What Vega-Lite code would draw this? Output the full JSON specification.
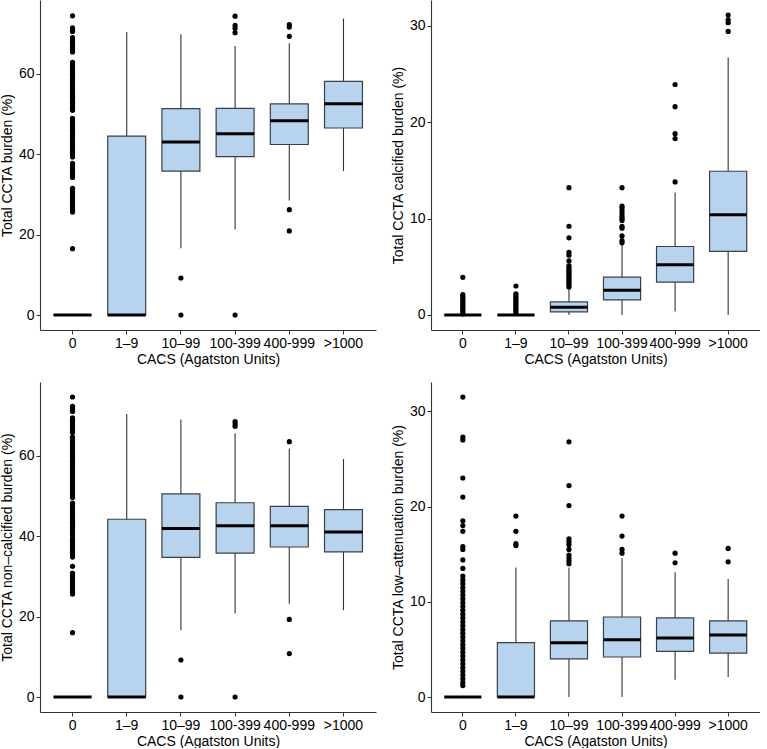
{
  "$schema": "https://vega.github.io/schema/vega-lite/v6.json",
  "padding": {"left": 0, "top": 0, "right": 0, "bottom": 0},
  "background": "white",
  "spacing": 16,
  "config": {
    "view": {"stroke": null},
    "font": "Liberation Sans",
    "axis": {
      "grid": false,
      "domainColor": "#333333",
      "domainWidth": 1.1,
      "tickColor": "#333333",
      "tickSize": 4,
      "labelFont": "Liberation Sans",
      "titleFont": "Liberation Sans",
      "labelFontSize": 14,
      "titleFontSize": 14,
      "titleFontWeight": "normal",
      "labelColor": "#000000",
      "titleColor": "#000000",
      "labelPadding": 2,
      "titlePadding": 4
    },
    "axisX": {"labelPadding": 2, "titlePadding": 2}
  },
  "datasets": {
    "boxes": [
      {"p": 1, "cat": "0", "lo": 0, "q1": 0, "med": 0, "q3": 0, "hi": 0},
      {"p": 1, "cat": "1–9", "lo": 0, "q1": 0, "med": 0, "q3": 44.5, "hi": 70.4},
      {"p": 1, "cat": "10–99", "lo": 16.6, "q1": 35.8, "med": 43.0, "q3": 51.3, "hi": 69.8},
      {"p": 1, "cat": "100-399", "lo": 21.3, "q1": 39.4, "med": 45.1, "q3": 51.4, "hi": 66.9},
      {"p": 1, "cat": "400-999", "lo": 28.5, "q1": 42.4, "med": 48.3, "q3": 52.5, "hi": 67.6},
      {"p": 1, "cat": ">1000", "lo": 35.8, "q1": 46.5, "med": 52.5, "q3": 58.1, "hi": 73.7},
      {"p": 2, "cat": "0", "lo": 0, "q1": 0, "med": 0, "q3": 0, "hi": 0},
      {"p": 2, "cat": "1–9", "lo": 0, "q1": 0, "med": 0, "q3": 0, "hi": 0},
      {"p": 2, "cat": "10–99", "lo": 0, "q1": 0.31, "med": 0.8, "q3": 1.35, "hi": 2.7},
      {"p": 2, "cat": "100-399", "lo": 0, "q1": 1.56, "med": 2.57, "q3": 3.92, "hi": 7.3},
      {"p": 2, "cat": "400-999", "lo": 0.35, "q1": 3.4, "med": 5.2, "q3": 7.1, "hi": 12.7},
      {"p": 2, "cat": ">1000", "lo": 0, "q1": 6.6, "med": 10.4, "q3": 14.9, "hi": 26.7},
      {"p": 3, "cat": "0", "lo": 0, "q1": 0, "med": 0, "q3": 0, "hi": 0},
      {"p": 3, "cat": "1–9", "lo": 0, "q1": 0, "med": 0, "q3": 44.2, "hi": 70.4},
      {"p": 3, "cat": "10–99", "lo": 16.6, "q1": 34.7, "med": 41.9, "q3": 50.5, "hi": 69.0},
      {"p": 3, "cat": "100-399", "lo": 20.8, "q1": 35.8, "med": 42.6, "q3": 48.3, "hi": 65.6},
      {"p": 3, "cat": "400-999", "lo": 23.2, "q1": 37.3, "med": 42.6, "q3": 47.4, "hi": 61.8},
      {"p": 3, "cat": ">1000", "lo": 21.6, "q1": 36.1, "med": 41.0, "q3": 46.6, "hi": 59.2},
      {"p": 4, "cat": "0", "lo": 0, "q1": 0, "med": 0, "q3": 0, "hi": 0},
      {"p": 4, "cat": "1–9", "lo": 0, "q1": 0, "med": 0, "q3": 5.7, "hi": 13.6},
      {"p": 4, "cat": "10–99", "lo": 0, "q1": 4.0, "med": 5.7, "q3": 8.0, "hi": 13.6},
      {"p": 4, "cat": "100-399", "lo": 0, "q1": 4.2, "med": 6.0, "q3": 8.4, "hi": 14.6},
      {"p": 4, "cat": "400-999", "lo": 1.8, "q1": 4.8, "med": 6.2, "q3": 8.3, "hi": 13.1},
      {"p": 4, "cat": ">1000", "lo": 2.1, "q1": 4.6, "med": 6.5, "q3": 8.0, "hi": 12.4}
    ],
    "outliers": [
      {"p": 1, "cat": "0", "v": 74.4}, {"p": 1, "cat": "0", "v": 71.4}, {"p": 1, "cat": "0", "v": 70.9}, {"p": 1, "cat": "0", "v": 70.5},
      {"p": 1, "cat": "0", "v": 69.0}, {"p": 1, "cat": "0", "v": 68.4}, {"p": 1, "cat": "0", "v": 67.8}, {"p": 1, "cat": "0", "v": 67.2},
      {"p": 1, "cat": "0", "v": 66.6}, {"p": 1, "cat": "0", "v": 66.0}, {"p": 1, "cat": "0", "v": 65.4}, {"p": 1, "cat": "0", "v": 62.8},
      {"p": 1, "cat": "0", "v": 62.2}, {"p": 1, "cat": "0", "v": 61.6}, {"p": 1, "cat": "0", "v": 61.0}, {"p": 1, "cat": "0", "v": 60.4},
      {"p": 1, "cat": "0", "v": 59.8}, {"p": 1, "cat": "0", "v": 59.2}, {"p": 1, "cat": "0", "v": 58.6}, {"p": 1, "cat": "0", "v": 58.0},
      {"p": 1, "cat": "0", "v": 57.4}, {"p": 1, "cat": "0", "v": 56.8}, {"p": 1, "cat": "0", "v": 56.2}, {"p": 1, "cat": "0", "v": 55.6},
      {"p": 1, "cat": "0", "v": 55.0}, {"p": 1, "cat": "0", "v": 54.4}, {"p": 1, "cat": "0", "v": 53.8}, {"p": 1, "cat": "0", "v": 53.2},
      {"p": 1, "cat": "0", "v": 52.6}, {"p": 1, "cat": "0", "v": 52.0}, {"p": 1, "cat": "0", "v": 51.4}, {"p": 1, "cat": "0", "v": 50.9},
      {"p": 1, "cat": "0", "v": 48.9}, {"p": 1, "cat": "0", "v": 48.3}, {"p": 1, "cat": "0", "v": 47.7}, {"p": 1, "cat": "0", "v": 47.1},
      {"p": 1, "cat": "0", "v": 46.5}, {"p": 1, "cat": "0", "v": 45.9}, {"p": 1, "cat": "0", "v": 45.3}, {"p": 1, "cat": "0", "v": 44.7},
      {"p": 1, "cat": "0", "v": 44.1}, {"p": 1, "cat": "0", "v": 43.5}, {"p": 1, "cat": "0", "v": 42.9}, {"p": 1, "cat": "0", "v": 42.3},
      {"p": 1, "cat": "0", "v": 41.7}, {"p": 1, "cat": "0", "v": 41.1}, {"p": 1, "cat": "0", "v": 40.5}, {"p": 1, "cat": "0", "v": 39.9},
      {"p": 1, "cat": "0", "v": 39.3}, {"p": 1, "cat": "0", "v": 37.7}, {"p": 1, "cat": "0", "v": 37.1}, {"p": 1, "cat": "0", "v": 36.5},
      {"p": 1, "cat": "0", "v": 35.9}, {"p": 1, "cat": "0", "v": 35.3}, {"p": 1, "cat": "0", "v": 34.7}, {"p": 1, "cat": "0", "v": 34.2},
      {"p": 1, "cat": "0", "v": 31.5}, {"p": 1, "cat": "0", "v": 30.9}, {"p": 1, "cat": "0", "v": 30.3}, {"p": 1, "cat": "0", "v": 29.7},
      {"p": 1, "cat": "0", "v": 29.1}, {"p": 1, "cat": "0", "v": 28.5}, {"p": 1, "cat": "0", "v": 27.9}, {"p": 1, "cat": "0", "v": 27.3},
      {"p": 1, "cat": "0", "v": 26.7}, {"p": 1, "cat": "0", "v": 26.1}, {"p": 1, "cat": "0", "v": 25.6}, {"p": 1, "cat": "0", "v": 16.5},
      {"p": 1, "cat": "10–99", "v": 9.2}, {"p": 1, "cat": "10–99", "v": 0},
      {"p": 1, "cat": "100-399", "v": 74.3}, {"p": 1, "cat": "100-399", "v": 72.0}, {"p": 1, "cat": "100-399", "v": 71.3}, {"p": 1, "cat": "100-399", "v": 70.2}, {"p": 1, "cat": "100-399", "v": 0},
      {"p": 1, "cat": "400-999", "v": 72.2}, {"p": 1, "cat": "400-999", "v": 71.6}, {"p": 1, "cat": "400-999", "v": 69.3}, {"p": 1, "cat": "400-999", "v": 26.2}, {"p": 1, "cat": "400-999", "v": 20.9},

      {"p": 2, "cat": "0", "v": 3.9}, {"p": 2, "cat": "0", "v": 2.1}, {"p": 2, "cat": "0", "v": 1.9}, {"p": 2, "cat": "0", "v": 1.7},
      {"p": 2, "cat": "0", "v": 1.5}, {"p": 2, "cat": "0", "v": 1.3}, {"p": 2, "cat": "0", "v": 1.1}, {"p": 2, "cat": "0", "v": 0.9},
      {"p": 2, "cat": "0", "v": 0.7}, {"p": 2, "cat": "0", "v": 0.5}, {"p": 2, "cat": "0", "v": 0.3}, {"p": 2, "cat": "0", "v": 0.1},
      {"p": 2, "cat": "1–9", "v": 3.0}, {"p": 2, "cat": "1–9", "v": 2.2}, {"p": 2, "cat": "1–9", "v": 2.0}, {"p": 2, "cat": "1–9", "v": 1.8},
      {"p": 2, "cat": "1–9", "v": 1.6}, {"p": 2, "cat": "1–9", "v": 1.4}, {"p": 2, "cat": "1–9", "v": 1.2}, {"p": 2, "cat": "1–9", "v": 1.0},
      {"p": 2, "cat": "1–9", "v": 0.8}, {"p": 2, "cat": "1–9", "v": 0.6}, {"p": 2, "cat": "1–9", "v": 0.4}, {"p": 2, "cat": "1–9", "v": 0.2},
      {"p": 2, "cat": "10–99", "v": 2.9}, {"p": 2, "cat": "10–99", "v": 3.1}, {"p": 2, "cat": "10–99", "v": 3.3}, {"p": 2, "cat": "10–99", "v": 3.5},
      {"p": 2, "cat": "10–99", "v": 3.7}, {"p": 2, "cat": "10–99", "v": 3.9}, {"p": 2, "cat": "10–99", "v": 4.1}, {"p": 2, "cat": "10–99", "v": 4.3},
      {"p": 2, "cat": "10–99", "v": 4.5}, {"p": 2, "cat": "10–99", "v": 4.7}, {"p": 2, "cat": "10–99", "v": 4.9}, {"p": 2, "cat": "10–99", "v": 5.1},
      {"p": 2, "cat": "10–99", "v": 5.6}, {"p": 2, "cat": "10–99", "v": 6.2}, {"p": 2, "cat": "10–99", "v": 6.5}, {"p": 2, "cat": "10–99", "v": 8.0},
      {"p": 2, "cat": "10–99", "v": 9.2}, {"p": 2, "cat": "10–99", "v": 13.2},
      {"p": 2, "cat": "100-399", "v": 7.5}, {"p": 2, "cat": "100-399", "v": 7.7}, {"p": 2, "cat": "100-399", "v": 8.2}, {"p": 2, "cat": "100-399", "v": 9.0},
      {"p": 2, "cat": "100-399", "v": 9.2}, {"p": 2, "cat": "100-399", "v": 9.8}, {"p": 2, "cat": "100-399", "v": 10.0}, {"p": 2, "cat": "100-399", "v": 10.2},
      {"p": 2, "cat": "100-399", "v": 10.5}, {"p": 2, "cat": "100-399", "v": 10.8}, {"p": 2, "cat": "100-399", "v": 11.1}, {"p": 2, "cat": "100-399", "v": 11.3},
      {"p": 2, "cat": "100-399", "v": 13.2},
      {"p": 2, "cat": "400-999", "v": 13.8}, {"p": 2, "cat": "400-999", "v": 18.3}, {"p": 2, "cat": "400-999", "v": 18.8}, {"p": 2, "cat": "400-999", "v": 21.6}, {"p": 2, "cat": "400-999", "v": 23.9},
      {"p": 2, "cat": ">1000", "v": 29.4}, {"p": 2, "cat": ">1000", "v": 30.3}, {"p": 2, "cat": ">1000", "v": 30.6}, {"p": 2, "cat": ">1000", "v": 31.1},

      {"p": 3, "cat": "0", "v": 74.6}, {"p": 3, "cat": "0", "v": 72.3}, {"p": 3, "cat": "0", "v": 71.7}, {"p": 3, "cat": "0", "v": 71.0},
      {"p": 3, "cat": "0", "v": 69.4}, {"p": 3, "cat": "0", "v": 68.8}, {"p": 3, "cat": "0", "v": 68.2}, {"p": 3, "cat": "0", "v": 67.6},
      {"p": 3, "cat": "0", "v": 67.0}, {"p": 3, "cat": "0", "v": 66.4}, {"p": 3, "cat": "0", "v": 65.8}, {"p": 3, "cat": "0", "v": 64.6},
      {"p": 3, "cat": "0", "v": 64.0}, {"p": 3, "cat": "0", "v": 63.4}, {"p": 3, "cat": "0", "v": 62.8}, {"p": 3, "cat": "0", "v": 62.2},
      {"p": 3, "cat": "0", "v": 61.6}, {"p": 3, "cat": "0", "v": 61.0}, {"p": 3, "cat": "0", "v": 60.4}, {"p": 3, "cat": "0", "v": 59.8},
      {"p": 3, "cat": "0", "v": 59.2}, {"p": 3, "cat": "0", "v": 58.6}, {"p": 3, "cat": "0", "v": 58.0}, {"p": 3, "cat": "0", "v": 57.4},
      {"p": 3, "cat": "0", "v": 56.8}, {"p": 3, "cat": "0", "v": 56.2}, {"p": 3, "cat": "0", "v": 55.6}, {"p": 3, "cat": "0", "v": 55.0},
      {"p": 3, "cat": "0", "v": 54.4}, {"p": 3, "cat": "0", "v": 53.8}, {"p": 3, "cat": "0", "v": 53.2}, {"p": 3, "cat": "0", "v": 52.6},
      {"p": 3, "cat": "0", "v": 52.0}, {"p": 3, "cat": "0", "v": 51.4}, {"p": 3, "cat": "0", "v": 50.8}, {"p": 3, "cat": "0", "v": 50.2},
      {"p": 3, "cat": "0", "v": 49.6}, {"p": 3, "cat": "0", "v": 48.2}, {"p": 3, "cat": "0", "v": 47.6}, {"p": 3, "cat": "0", "v": 47.0},
      {"p": 3, "cat": "0", "v": 46.4}, {"p": 3, "cat": "0", "v": 45.8}, {"p": 3, "cat": "0", "v": 45.2}, {"p": 3, "cat": "0", "v": 44.6},
      {"p": 3, "cat": "0", "v": 44.0}, {"p": 3, "cat": "0", "v": 43.4}, {"p": 3, "cat": "0", "v": 42.8}, {"p": 3, "cat": "0", "v": 42.2},
      {"p": 3, "cat": "0", "v": 41.6}, {"p": 3, "cat": "0", "v": 41.0}, {"p": 3, "cat": "0", "v": 40.4}, {"p": 3, "cat": "0", "v": 39.6},
      {"p": 3, "cat": "0", "v": 39.0}, {"p": 3, "cat": "0", "v": 38.4}, {"p": 3, "cat": "0", "v": 37.8}, {"p": 3, "cat": "0", "v": 37.2},
      {"p": 3, "cat": "0", "v": 36.6}, {"p": 3, "cat": "0", "v": 36.0}, {"p": 3, "cat": "0", "v": 35.4}, {"p": 3, "cat": "0", "v": 34.8},
      {"p": 3, "cat": "0", "v": 32.5}, {"p": 3, "cat": "0", "v": 30.8}, {"p": 3, "cat": "0", "v": 30.2}, {"p": 3, "cat": "0", "v": 29.6},
      {"p": 3, "cat": "0", "v": 29.0}, {"p": 3, "cat": "0", "v": 28.4}, {"p": 3, "cat": "0", "v": 27.8}, {"p": 3, "cat": "0", "v": 27.2},
      {"p": 3, "cat": "0", "v": 26.6}, {"p": 3, "cat": "0", "v": 26.0}, {"p": 3, "cat": "0", "v": 25.6}, {"p": 3, "cat": "0", "v": 16.0},
      {"p": 3, "cat": "10–99", "v": 9.2}, {"p": 3, "cat": "10–99", "v": 0},
      {"p": 3, "cat": "100-399", "v": 68.5}, {"p": 3, "cat": "100-399", "v": 67.9}, {"p": 3, "cat": "100-399", "v": 67.3}, {"p": 3, "cat": "100-399", "v": 0},
      {"p": 3, "cat": "400-999", "v": 63.5}, {"p": 3, "cat": "400-999", "v": 19.3}, {"p": 3, "cat": "400-999", "v": 10.8},

      {"p": 4, "cat": "0", "v": 31.5}, {"p": 4, "cat": "0", "v": 27.3}, {"p": 4, "cat": "0", "v": 27.0}, {"p": 4, "cat": "0", "v": 23.0},
      {"p": 4, "cat": "0", "v": 21.0}, {"p": 4, "cat": "0", "v": 18.5}, {"p": 4, "cat": "0", "v": 18.0}, {"p": 4, "cat": "0", "v": 17.4},
      {"p": 4, "cat": "0", "v": 15.8}, {"p": 4, "cat": "0", "v": 15.5}, {"p": 4, "cat": "0", "v": 14.4}, {"p": 4, "cat": "0", "v": 13.5},
      {"p": 4, "cat": "0", "v": 12.7}, {"p": 4, "cat": "0", "v": 12.3}, {"p": 4, "cat": "0", "v": 11.9}, {"p": 4, "cat": "0", "v": 11.5},
      {"p": 4, "cat": "0", "v": 11.1}, {"p": 4, "cat": "0", "v": 10.7}, {"p": 4, "cat": "0", "v": 10.3}, {"p": 4, "cat": "0", "v": 9.9},
      {"p": 4, "cat": "0", "v": 9.5}, {"p": 4, "cat": "0", "v": 9.1}, {"p": 4, "cat": "0", "v": 8.7}, {"p": 4, "cat": "0", "v": 8.3},
      {"p": 4, "cat": "0", "v": 7.9}, {"p": 4, "cat": "0", "v": 7.5}, {"p": 4, "cat": "0", "v": 7.1}, {"p": 4, "cat": "0", "v": 6.7},
      {"p": 4, "cat": "0", "v": 6.3}, {"p": 4, "cat": "0", "v": 5.9}, {"p": 4, "cat": "0", "v": 5.5}, {"p": 4, "cat": "0", "v": 5.1},
      {"p": 4, "cat": "0", "v": 4.7}, {"p": 4, "cat": "0", "v": 4.3}, {"p": 4, "cat": "0", "v": 3.9}, {"p": 4, "cat": "0", "v": 3.5},
      {"p": 4, "cat": "0", "v": 3.1}, {"p": 4, "cat": "0", "v": 2.7}, {"p": 4, "cat": "0", "v": 2.3}, {"p": 4, "cat": "0", "v": 1.9},
      {"p": 4, "cat": "0", "v": 1.5}, {"p": 4, "cat": "0", "v": 1.2},
      {"p": 4, "cat": "1–9", "v": 15.9}, {"p": 4, "cat": "1–9", "v": 16.1}, {"p": 4, "cat": "1–9", "v": 17.4}, {"p": 4, "cat": "1–9", "v": 19.0},
      {"p": 4, "cat": "10–99", "v": 14.0}, {"p": 4, "cat": "10–99", "v": 14.3}, {"p": 4, "cat": "10–99", "v": 14.6}, {"p": 4, "cat": "10–99", "v": 14.9},
      {"p": 4, "cat": "10–99", "v": 15.5}, {"p": 4, "cat": "10–99", "v": 16.0}, {"p": 4, "cat": "10–99", "v": 16.3}, {"p": 4, "cat": "10–99", "v": 16.6},
      {"p": 4, "cat": "10–99", "v": 20.1}, {"p": 4, "cat": "10–99", "v": 22.2}, {"p": 4, "cat": "10–99", "v": 26.8},
      {"p": 4, "cat": "100-399", "v": 15.1}, {"p": 4, "cat": "100-399", "v": 15.5}, {"p": 4, "cat": "100-399", "v": 16.9}, {"p": 4, "cat": "100-399", "v": 19.0},
      {"p": 4, "cat": "400-999", "v": 14.1}, {"p": 4, "cat": "400-999", "v": 15.1},
      {"p": 4, "cat": ">1000", "v": 14.2}, {"p": 4, "cat": ">1000", "v": 15.6}
    ]
  },
  "vconcat": [
    {
      "spacing": 15,
      "hconcat": [
        {
          "width": 336, "height": 330,
          "layer": [
            {"data": {"name": "boxes"}, "transform": [{"filter": "datum.p == 1"}],
             "mark": {"type": "rule", "color": "#333333", "strokeWidth": 1.1},
             "encoding": {
               "x": {"field": "cat", "type": "nominal", "scale": {"type": "band", "domain": ["0", "1–9", "10–99", "100-399", "400-999", ">1000"], "paddingInner": 0.3, "paddingOuter": 0.25}, "axis": {"title": "CACS (Agatston Units)", "labelAngle": 0}},
               "y": {"field": "lo", "type": "quantitative", "scale": {"domain": [-3.73, 78.33], "nice": false, "zero": false}, "axis": {"title": "Total CCTA burden (%)", "values": [0, 20, 40, 60]}},
               "y2": {"field": "hi"}}},
            {"data": {"name": "boxes"}, "transform": [{"filter": "datum.p == 1"}],
             "mark": {"type": "bar", "fill": "#b8d3ee", "stroke": "#3a3f48", "strokeWidth": 1.2},
             "encoding": {
               "x": {"field": "cat", "type": "nominal", "scale": {"type": "band", "domain": ["0", "1–9", "10–99", "100-399", "400-999", ">1000"], "paddingInner": 0.3, "paddingOuter": 0.25}, "axis": {"title": "CACS (Agatston Units)", "labelAngle": 0}},
               "y": {"field": "q1", "type": "quantitative", "scale": {"domain": [-3.73, 78.33], "nice": false, "zero": false}, "axis": {"title": "Total CCTA burden (%)", "values": [0, 20, 40, 60]}},
               "y2": {"field": "q3"}}},
            {"data": {"name": "boxes"}, "transform": [{"filter": "datum.p == 1"}],
             "mark": {"type": "tick", "color": "#000000", "thickness": 3, "size": 38, "opacity": 1},
             "encoding": {
               "x": {"field": "cat", "type": "nominal", "scale": {"type": "band", "domain": ["0", "1–9", "10–99", "100-399", "400-999", ">1000"], "paddingInner": 0.3, "paddingOuter": 0.25}, "axis": {"title": "CACS (Agatston Units)", "labelAngle": 0}},
               "y": {"field": "med", "type": "quantitative", "scale": {"domain": [-3.73, 78.33], "nice": false, "zero": false}, "axis": {"title": "Total CCTA burden (%)", "values": [0, 20, 40, 60]}}}},
            {"data": {"name": "outliers"}, "transform": [{"filter": "datum.p == 1"}],
             "mark": {"type": "circle", "color": "#000000", "size": 27, "opacity": 1},
             "encoding": {
               "x": {"field": "cat", "type": "nominal", "scale": {"type": "band", "domain": ["0", "1–9", "10–99", "100-399", "400-999", ">1000"], "paddingInner": 0.3, "paddingOuter": 0.25}, "axis": {"title": "CACS (Agatston Units)", "labelAngle": 0}},
               "y": {"field": "v", "type": "quantitative", "scale": {"domain": [-3.73, 78.33], "nice": false, "zero": false}, "axis": {"title": "Total CCTA burden (%)", "values": [0, 20, 40, 60]}}}}
          ]
        },
        {
          "width": 329, "height": 330,
          "layer": [
            {"data": {"name": "boxes"}, "transform": [{"filter": "datum.p == 2"}],
             "mark": {"type": "rule", "color": "#333333", "strokeWidth": 1.1},
             "encoding": {
               "x": {"field": "cat", "type": "nominal", "scale": {"type": "band", "domain": ["0", "1–9", "10–99", "100-399", "400-999", ">1000"], "paddingInner": 0.3, "paddingOuter": 0.25}, "axis": {"title": "CACS (Agatston Units)", "labelAngle": 0}},
               "y": {"field": "lo", "type": "quantitative", "scale": {"domain": [-1.56, 32.66], "nice": false, "zero": false}, "axis": {"title": "Total CCTA calcified burden (%)", "values": [0, 10, 20, 30]}},
               "y2": {"field": "hi"}}},
            {"data": {"name": "boxes"}, "transform": [{"filter": "datum.p == 2"}],
             "mark": {"type": "bar", "fill": "#b8d3ee", "stroke": "#3a3f48", "strokeWidth": 1.2},
             "encoding": {
               "x": {"field": "cat", "type": "nominal", "scale": {"type": "band", "domain": ["0", "1–9", "10–99", "100-399", "400-999", ">1000"], "paddingInner": 0.3, "paddingOuter": 0.25}, "axis": {"title": "CACS (Agatston Units)", "labelAngle": 0}},
               "y": {"field": "q1", "type": "quantitative", "scale": {"domain": [-1.56, 32.66], "nice": false, "zero": false}, "axis": {"title": "Total CCTA calcified burden (%)", "values": [0, 10, 20, 30]}},
               "y2": {"field": "q3"}}},
            {"data": {"name": "boxes"}, "transform": [{"filter": "datum.p == 2"}],
             "mark": {"type": "tick", "color": "#000000", "thickness": 3, "size": 37, "opacity": 1},
             "encoding": {
               "x": {"field": "cat", "type": "nominal", "scale": {"type": "band", "domain": ["0", "1–9", "10–99", "100-399", "400-999", ">1000"], "paddingInner": 0.3, "paddingOuter": 0.25}, "axis": {"title": "CACS (Agatston Units)", "labelAngle": 0}},
               "y": {"field": "med", "type": "quantitative", "scale": {"domain": [-1.56, 32.66], "nice": false, "zero": false}, "axis": {"title": "Total CCTA calcified burden (%)", "values": [0, 10, 20, 30]}}}},
            {"data": {"name": "outliers"}, "transform": [{"filter": "datum.p == 2"}],
             "mark": {"type": "circle", "color": "#000000", "size": 27, "opacity": 1},
             "encoding": {
               "x": {"field": "cat", "type": "nominal", "scale": {"type": "band", "domain": ["0", "1–9", "10–99", "100-399", "400-999", ">1000"], "paddingInner": 0.3, "paddingOuter": 0.25}, "axis": {"title": "CACS (Agatston Units)", "labelAngle": 0}},
               "y": {"field": "v", "type": "quantitative", "scale": {"domain": [-1.56, 32.66], "nice": false, "zero": false}, "axis": {"title": "Total CCTA calcified burden (%)", "values": [0, 10, 20, 30]}}}}
          ]
        }
      ]
    },
    {
      "spacing": 15,
      "hconcat": [
        {
          "width": 336, "height": 330,
          "layer": [
            {"data": {"name": "boxes"}, "transform": [{"filter": "datum.p == 3"}],
             "mark": {"type": "rule", "color": "#333333", "strokeWidth": 1.1},
             "encoding": {
               "x": {"field": "cat", "type": "nominal", "scale": {"type": "band", "domain": ["0", "1–9", "10–99", "100-399", "400-999", ">1000"], "paddingInner": 0.3, "paddingOuter": 0.25}, "axis": {"title": "CACS (Agatston Units)", "labelAngle": 0}},
               "y": {"field": "lo", "type": "quantitative", "scale": {"domain": [-3.73, 78.33], "nice": false, "zero": false}, "axis": {"title": "Total CCTA non–calcified burden (%)", "values": [0, 20, 40, 60]}},
               "y2": {"field": "hi"}}},
            {"data": {"name": "boxes"}, "transform": [{"filter": "datum.p == 3"}],
             "mark": {"type": "bar", "fill": "#b8d3ee", "stroke": "#3a3f48", "strokeWidth": 1.2},
             "encoding": {
               "x": {"field": "cat", "type": "nominal", "scale": {"type": "band", "domain": ["0", "1–9", "10–99", "100-399", "400-999", ">1000"], "paddingInner": 0.3, "paddingOuter": 0.25}, "axis": {"title": "CACS (Agatston Units)", "labelAngle": 0}},
               "y": {"field": "q1", "type": "quantitative", "scale": {"domain": [-3.73, 78.33], "nice": false, "zero": false}, "axis": {"title": "Total CCTA non–calcified burden (%)", "values": [0, 20, 40, 60]}},
               "y2": {"field": "q3"}}},
            {"data": {"name": "boxes"}, "transform": [{"filter": "datum.p == 3"}],
             "mark": {"type": "tick", "color": "#000000", "thickness": 3, "size": 38, "opacity": 1},
             "encoding": {
               "x": {"field": "cat", "type": "nominal", "scale": {"type": "band", "domain": ["0", "1–9", "10–99", "100-399", "400-999", ">1000"], "paddingInner": 0.3, "paddingOuter": 0.25}, "axis": {"title": "CACS (Agatston Units)", "labelAngle": 0}},
               "y": {"field": "med", "type": "quantitative", "scale": {"domain": [-3.73, 78.33], "nice": false, "zero": false}, "axis": {"title": "Total CCTA non–calcified burden (%)", "values": [0, 20, 40, 60]}}}},
            {"data": {"name": "outliers"}, "transform": [{"filter": "datum.p == 3"}],
             "mark": {"type": "circle", "color": "#000000", "size": 27, "opacity": 1},
             "encoding": {
               "x": {"field": "cat", "type": "nominal", "scale": {"type": "band", "domain": ["0", "1–9", "10–99", "100-399", "400-999", ">1000"], "paddingInner": 0.3, "paddingOuter": 0.25}, "axis": {"title": "CACS (Agatston Units)", "labelAngle": 0}},
               "y": {"field": "v", "type": "quantitative", "scale": {"domain": [-3.73, 78.33], "nice": false, "zero": false}, "axis": {"title": "Total CCTA non–calcified burden (%)", "values": [0, 20, 40, 60]}}}}
          ]
        },
        {
          "width": 329, "height": 330,
          "layer": [
            {"data": {"name": "boxes"}, "transform": [{"filter": "datum.p == 4"}],
             "mark": {"type": "rule", "color": "#333333", "strokeWidth": 1.1},
             "encoding": {
               "x": {"field": "cat", "type": "nominal", "scale": {"type": "band", "domain": ["0", "1–9", "10–99", "100-399", "400-999", ">1000"], "paddingInner": 0.3, "paddingOuter": 0.25}, "axis": {"title": "CACS (Agatston Units)", "labelAngle": 0}},
               "y": {"field": "lo", "type": "quantitative", "scale": {"domain": [-1.575, 33.08], "nice": false, "zero": false}, "axis": {"title": "Total CCTA low–attenuation burden (%)", "values": [0, 10, 20, 30]}},
               "y2": {"field": "hi"}}},
            {"data": {"name": "boxes"}, "transform": [{"filter": "datum.p == 4"}],
             "mark": {"type": "bar", "fill": "#b8d3ee", "stroke": "#3a3f48", "strokeWidth": 1.2},
             "encoding": {
               "x": {"field": "cat", "type": "nominal", "scale": {"type": "band", "domain": ["0", "1–9", "10–99", "100-399", "400-999", ">1000"], "paddingInner": 0.3, "paddingOuter": 0.25}, "axis": {"title": "CACS (Agatston Units)", "labelAngle": 0}},
               "y": {"field": "q1", "type": "quantitative", "scale": {"domain": [-1.575, 33.08], "nice": false, "zero": false}, "axis": {"title": "Total CCTA low–attenuation burden (%)", "values": [0, 10, 20, 30]}},
               "y2": {"field": "q3"}}},
            {"data": {"name": "boxes"}, "transform": [{"filter": "datum.p == 4"}],
             "mark": {"type": "tick", "color": "#000000", "thickness": 3, "size": 37, "opacity": 1},
             "encoding": {
               "x": {"field": "cat", "type": "nominal", "scale": {"type": "band", "domain": ["0", "1–9", "10–99", "100-399", "400-999", ">1000"], "paddingInner": 0.3, "paddingOuter": 0.25}, "axis": {"title": "CACS (Agatston Units)", "labelAngle": 0}},
               "y": {"field": "med", "type": "quantitative", "scale": {"domain": [-1.575, 33.08], "nice": false, "zero": false}, "axis": {"title": "Total CCTA low–attenuation burden (%)", "values": [0, 10, 20, 30]}}}},
            {"data": {"name": "outliers"}, "transform": [{"filter": "datum.p == 4"}],
             "mark": {"type": "circle", "color": "#000000", "size": 27, "opacity": 1},
             "encoding": {
               "x": {"field": "cat", "type": "nominal", "scale": {"type": "band", "domain": ["0", "1–9", "10–99", "100-399", "400-999", ">1000"], "paddingInner": 0.3, "paddingOuter": 0.25}, "axis": {"title": "CACS (Agatston Units)", "labelAngle": 0}},
               "y": {"field": "v", "type": "quantitative", "scale": {"domain": [-1.575, 33.08], "nice": false, "zero": false}, "axis": {"title": "Total CCTA low–attenuation burden (%)", "values": [0, 10, 20, 30]}}}}
          ]
        }
      ]
    }
  ]
}
